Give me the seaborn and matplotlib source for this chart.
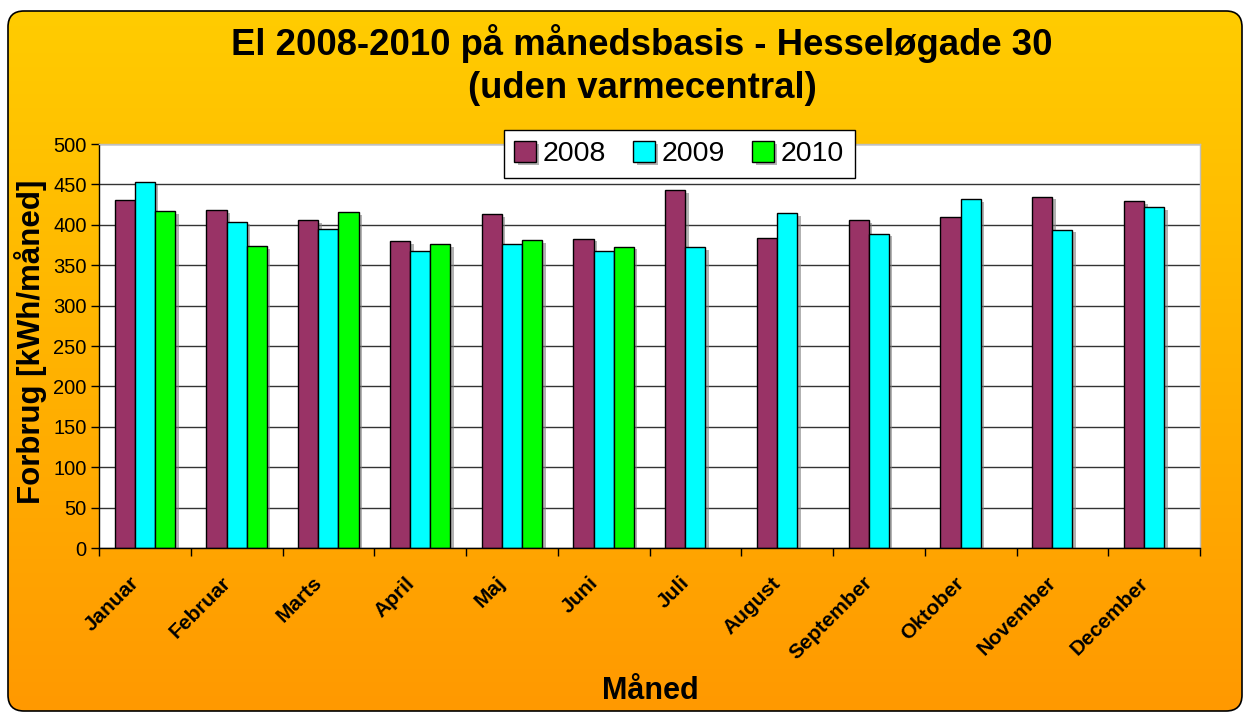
import numpy as np
import pandas as pd
import matplotlib
matplotlib.use('Agg')
import matplotlib.pyplot as plt
import seaborn as sns
from matplotlib.patches import FancyBboxPatch
from matplotlib.colors import LinearSegmentedColormap
from matplotlib.transforms import ScaledTranslation
import matplotlib.patheffects as pe
from matplotlib.ticker import MultipleLocator

# ---- data ----
months = ['Januar', 'Februar', 'Marts', 'April', 'Maj', 'Juni', 'Juli',
          'August', 'September', 'Oktober', 'November', 'December']
years = ['2008', '2009', '2010']
v2008 = [431, 418, 406, 380, 413, 383, 443, 384, 406, 410, 435, 429]
v2009 = [453, 404, 395, 367, 376, 368, 372, 414, 389, 432, 394, 422]
v2010 = [417, 374, 416, 376, 381, 373]
colors = ['#993366', '#00FFFF', '#00FF00']

title1 = 'El 2008-2010 på månedsbasis - Hesseløgade 30'
title2 = '(uden varmecentral)'
ylabel = 'Forbrug [kWh/måned]'
xlabel = 'Måned'

rows = []
for yr, vals in zip(years, [v2008, v2009, v2010]):
    for m, v in zip(months, vals):
        rows.append({'month': m, 'year': yr, 'value': v})
df = pd.DataFrame(rows)

plt.rcParams['font.family'] = ['Liberation Sans', 'DejaVu Sans']

W, H = 1249, 713
fig = plt.figure(figsize=(W / 100, H / 100), dpi=100)
fig.patch.set_facecolor('white')

# background gradient frame
bg = fig.add_axes([0, 0, 1, 1])
bg.set_xlim(0, W)
bg.set_ylim(0, H)
bg.axis('off')
bg.set_zorder(-10)
cmap = LinearSegmentedColormap.from_list('bg', ['#FF9900', '#FFCC00'])
grad = np.linspace(0, 1, 256).reshape(-1, 1)
im = bg.imshow(grad, cmap=cmap, extent=[8, 1242, 2, 702], origin='lower',
               aspect='auto', interpolation='bilinear')
frame = FancyBboxPatch((8, 2), 1234, 700, boxstyle='round,pad=0,rounding_size=16',
                       facecolor='none', edgecolor='black', linewidth=1.2)
bg.add_patch(frame)
im.set_clip_path(frame)

# main axes
ax = fig.add_axes([99 / W, 165 / H, 1101 / W, 404 / H])
ax.set_facecolor('white')
sns.barplot(data=df, x='month', y='value', hue='year', order=months,
            hue_order=years, palette=colors, saturation=1, width=0.66,
            edgecolor='black', linewidth=1, errorbar=None, ax=ax)

for p in ax.patches:
    p.set_path_effects([pe.SimplePatchShadow(offset=(2.5, -2), shadow_rgbFace='#7f7f7f', alpha=0.6),
                        pe.Normal()])

ax.set_ylim(0, 500)
ax.set_xlim(-0.5, 11.5)
ax.yaxis.set_major_locator(MultipleLocator(50))
ax.grid(axis='y', color='#333333', linewidth=1)
ax.grid(axis='x', visible=False)
ax.set_axisbelow(True)
ax.tick_params(axis='y', labelsize=14.5, length=6, direction='out', width=1, pad=3)

ax.set_xticks(range(len(months)))
ax.set_xticklabels(months, rotation=45, ha='right', va='center',
                   rotation_mode='anchor', fontweight='bold', fontsize=15)
ax.tick_params(axis='x', which='major', length=0, pad=23)
ax.set_xticks(np.arange(-0.5, len(months), 1), minor=True)
ax.tick_params(axis='x', which='minor', length=6, direction='out', width=1)

shift = ScaledTranslation(-9 / 100, 0, fig.dpi_scale_trans)
for lab in ax.get_xticklabels():
    lab.set_transform(lab.get_transform() + shift)

for s in ['left', 'bottom']:
    ax.spines[s].set_color('black')
    ax.spines[s].set_linewidth(1)
for s in ['top', 'right']:
    ax.spines[s].set_color('#bfbfbf')
    ax.spines[s].set_linewidth(1)

ax.set_xlabel('')
ax.set_ylabel('')

handles, labels = ax.get_legend_handles_labels()
if ax.get_legend() is not None:
    ax.get_legend().remove()
leg = ax.legend(handles, labels, loc='center', bbox_to_anchor=(0.527, 0.975),
                ncol=3, fontsize=20.5, frameon=True, fancybox=False,
                edgecolor='black', facecolor='white', framealpha=1,
                handlelength=0.75, handleheight=0.75, handletextpad=0.25,
                columnspacing=0.95, borderpad=0.38, borderaxespad=0)
leg.get_frame().set_linewidth(1)

# titles and axis labels
fig.text(642 / W, 1 - 55 / H, title1, ha='center', va='baseline',
         fontsize=26.3, fontweight='bold')
fig.text(642 / W, 1 - 98 / H, title2, ha='center', va='baseline',
         fontsize=26.3, fontweight='bold')
fig.text(650 / W, 1 - 691 / H, xlabel, ha='center', va='center',
         fontsize=22, fontweight='bold')
fig.text(31 / W, 1 - 342 / H, ylabel, ha='center', va='center', rotation=90,
         fontsize=22.5, fontweight='bold')

fig.savefig('out.png', dpi=100)
